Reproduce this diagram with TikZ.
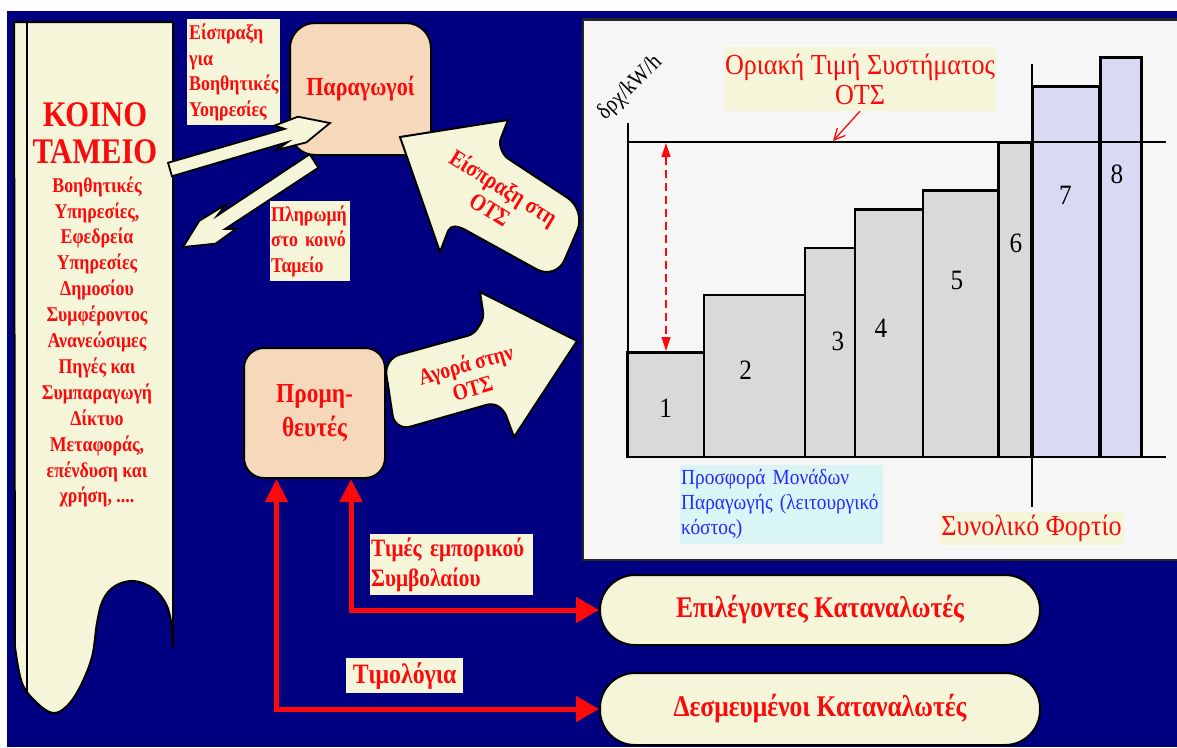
\documentclass[tikz,border=0pt]{standalone}
\usepackage{fontspec}
\setmainfont{Liberation Serif}[FakeStretch=0.85]
\newfontfamily\chartfont{Liberation Serif}[FakeStretch=0.9]
\usetikzlibrary{arrows.meta,calc}
\definecolor{navy}{RGB}{0,0,128}
\definecolor{cream}{RGB}{245,245,218}
\definecolor{peach}{RGB}{246,217,186}
\definecolor{panel}{RGB}{246,246,246}
\definecolor{bargray}{RGB}{217,217,217}
\definecolor{lav}{RGB}{217,217,243}
\definecolor{cyanbox}{RGB}{218,245,245}
\definecolor{red0}{RGB}{250,10,10}
\definecolor{blue0}{RGB}{40,40,255}
\begin{document}
\begin{tikzpicture}[x=1pt,y=-1pt,
  lbl/.style={fill=cream, text=red0, inner sep=2pt, align=left, anchor=north west},
  peachbox/.style={draw=black, line width=2pt, fill=peach, text=red0, align=center},
  consbox/.style={draw=black, line width=2pt, fill=cream, text=red0, minimum width=440pt, rounded corners=35pt, font=\bfseries\fontsize{30}{32}\selectfont},
  thinarrow/.style={draw=black, line width=1.8pt, fill=cream, line join=miter},
  bigarrow/.style={draw=black, line width=2pt, fill=cream},
  bar/.style={draw=black, line width=2.5pt, fill=bargray},
  barl/.style={draw=black, line width=2.5pt, fill=lav},
  axis/.style={draw=black, line width=2pt},
  redconn/.style={draw=red0, line width=5pt, {Triangle[length=23pt,width=22pt]}-{Triangle[length=23pt,width=25pt]}},
  num/.style={font=\chartfont\fontsize{28}{30}\selectfont, text=black}
]
\useasboundingbox (0,0) rectangle (1177,747);
\fill[navy] (7,11) rectangle (1177,747);

% scroll
\filldraw[fill=cream, draw=black, line width=2pt] (14,22) -- (173,22) -- (173,648) -- plot[smooth, tension=0.6] coordinates {(172,628) (167,606) (154,589) (134,581) (115,586) (103,600) (97,623) (92,657) (80,687) (67,706) (53,713) (37,703) (22,683) (15,647)} -- cycle;
\draw[line width=2pt] (27,22) -- (27,692);
\node (koino) [font=\bfseries\fontsize{36}{37}\selectfont, text=red0, align=center] at (95,133) {ΚΟΙΝΟ\\ΤΑΜΕΙΟ};
\node (koinolist) [font=\bfseries\fontsize{21}{25.9}\selectfont, text=red0, align=center] at (97,342) {Βοηθητικές\\Υπηρεσίες,\\Εφεδρεία\\Υπηρεσίες\\Δημοσίου\\Συμφέροντος\\Ανανεώσιμες\\Πηγές και\\Συμπαραγωγή\\Δίκτυο\\Μεταφοράς,\\επένδυση και\\χρήση, ....};

% labels
\node (lblA) [lbl, font=\bfseries\fontsize{21}{25.5}\selectfont, minimum width=93pt, minimum height=106pt, text width=89pt, inner sep=2pt] at (187,19) {Είσπραξη\\για\\Βοηθητικές\\Υοηρεσίες};
\node (lblB) [lbl, font=\bfseries\fontsize{21}{25.5}\selectfont, minimum width=80pt, minimum height=80pt, text width=78pt, inner sep=1pt] at (270,201) {Πληρωμή\\στο κοινό\\Ταμείο};

% boxes
\node (parag) [peachbox, font=\bfseries\fontsize{26}{30}\selectfont, minimum width=141pt, minimum height=132pt, rounded corners=25pt] at (360.5,89) {Παραγωγοί};
\node (prom) [peachbox, font=\bfseries\fontsize{27.5}{34}\selectfont, minimum width=141pt, minimum height=130pt, rounded corners=20pt] at (314.5,413) {Προμη-\\θευτές};

% thin arrows
\begin{scope}[shift={(170,169.5)}, rotate=16.2]
\draw[thinarrow] (0,-7) -- (121.6,-7) -- (112.6,-13) -- (137.6,-15) -- (166.6,0) -- (138.6,12) -- (107.6,11) -- (120.6,6.5) -- (0,7) -- cycle;
\end{scope}
\begin{scope}[shift={(314,161)}, rotate=213.3]
\draw[thinarrow] (0,-8) -- (111.7,-8) -- (102.7,-14) -- (127.7,-15) -- (156.7,0) -- (128.7,13) -- (97.7,12) -- (110.7,7.5) -- (0,8) -- cycle;
\end{scope}

% big arrows
\draw[bigarrow] (400,137) -- (508,120) [rounded corners=5pt] -- (499,143) -- (504,156) [rounded corners=22pt] -- (586,210) -- (556,280) [rounded corners=5pt] -- (460,227) -- (450,226) [sharp corners] -- (440,252) -- cycle;
\node (arrtxt1) [rotate=-32, text=red0, align=center, font=\bfseries\fontsize{24}{26}\selectfont] at (497,198) {Είσπραξη στη\\ΟΤΣ};
\draw[bigarrow] (577,341) -- (480,292) [rounded corners=6pt] -- (484,318) -- (474,334) [rounded corners=16pt] -- (384,359) -- (395,431) [rounded corners=6pt] -- (493,403) -- (504,410) [sharp corners] -- (514,437) -- cycle;
\node (arrtxt2) [rotate=16, text=red0, align=center, font=\bfseries\fontsize{23}{25}\selectfont] at (469,376) {Αγορά στην\\ΟΤΣ};

% chart panel
\filldraw[fill=panel, draw=black!85, line width=2.5pt] (583,19.5) rectangle (1195,560);
\filldraw[bar] (627.6,457) rectangle (704,352.7);
\filldraw[bar] (704,457) rectangle (805,295);
\filldraw[bar] (805,457) rectangle (855,248);
\filldraw[bar] (855,457) rectangle (923,209.5);
\filldraw[bar] (923,457) rectangle (998.5,190.7);
\filldraw[bar] (998.5,457) rectangle (1031,143);
\filldraw[barl] (1033,457) rectangle (1099,86.7);
\filldraw[barl] (1100.6,457) rectangle (1141.7,57.3);
\draw[axis] (627.6,123) -- (627.6,457);
\draw[axis] (627.6,142) -- (1166,142);
\draw[axis] (627.6,457) -- (1166,457);
\draw[axis] (1032,64) -- (1032,507);
\node (n1) [num] at (665.7,408) {1};
\node (n2) [num] at (745.6,370) {2};
\node (n3) [num] at (838,341.7) {3};
\node (n4) [num] at (881,328) {4};
\node (n5) [num] at (957,280) {5};
\node (n6) [num] at (1016,243) {6};
\node (n7) [num] at (1065.5,195) {7};
\node (n8) [num] at (1117,174) {8};
\node (yunit) [rotate=45, inner sep=0pt, font=\chartfont\fontsize{23}{25}\selectfont] at (630,88) {δρχ/kW/h};
\coordinate (otsA) at (666,143);
\coordinate (bar1top) at (666,351);
\draw[red0, line width=1.2pt, dash pattern=on 8pt off 5pt, {Triangle[length=14pt,width=9pt]}-{Triangle[length=14pt,width=9pt]}] (otsA) -- (bar1top);
\node (otslbl) [fill=cream, text=red0, align=center, minimum width=272pt, minimum height=64pt, inner sep=1pt, font=\chartfont\fontsize{29}{30}\selectfont] at (860,79) {Οριακή Τιμή Συστήματος\\ΟΤΣ};
\coordinate (otsend) at (833,141);
\draw[red0, line width=1.3pt, -{Straight Barb[length=11pt,width=11pt]}] (otslbl.south) -- (otsend);
\node (offer) [fill=cyanbox, text=blue0, align=left, anchor=north west, minimum width=203pt, minimum height=79pt, text width=201pt, inner sep=1pt, font=\chartfont\fontsize{21.5}{25}\selectfont] at (680,465) {Προσφορά Μονάδων\\Παραγωγής (λειτουργικό\\κόστος)};
\node (load) [fill=cream, text=red0, minimum width=185pt, minimum height=33pt, inner sep=1pt, font=\chartfont\fontsize{29}{30}\selectfont] at (1031.5,528.5) {Συνολικό Φορτίο};

% consumers
\node (epil) [consbox, minimum height=70pt] at (820,610) {Επιλέγοντες Καταναλωτές};
\node (desm) [consbox, minimum height=72pt] at (820,709) {Δεσμευμένοι Καταναλωτές};
\node (lblC) [lbl, font=\bfseries\fontsize{25}{30}\selectfont, minimum width=163pt, minimum height=61pt, text width=161pt, inner sep=1pt] at (370,534) {Τιμές εμπορικού\\Συμβολαίου};
\node (lblD) [lbl, font=\bfseries\fontsize{28}{30}\selectfont, minimum width=117pt, minimum height=35pt, text width=115pt, inner sep=1pt, align=center] at (346,658) {Τιμολόγια};
\draw[redconn] ([xshift=33.5pt]prom.south west) |- (desm.west);
\draw[redconn] ([xshift=-35pt]prom.south east) |- (epil.west);
\end{tikzpicture}
\end{document}
